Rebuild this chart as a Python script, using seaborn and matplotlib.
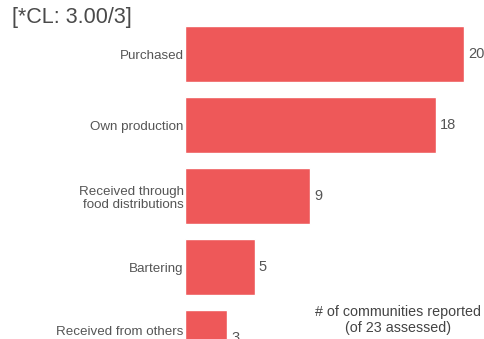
import seaborn as sns
import matplotlib.pyplot as plt
import matplotlib.transforms as mtransforms
import pandas as pd

categories = ["Purchased", "Own production", "Received through\nfood distributions",
              "Bartering", "Received from others"]
counts = [20, 18, 9, 5, 3]

df = pd.DataFrame({"source": categories, "count": counts})

sns.set_style("white")
plt.rcParams['font.family'] = ['Liberation Sans', 'DejaVu Sans']

fig = plt.figure(figsize=(4.84, 3.39), dpi=100)
# axes runs off the bottom of the figure, like the cropped original
ax = fig.add_axes([185 / 484, -0.1018, 299 / 484, 1.047])

sns.barplot(data=df, y="source", x="count", color="#EE5859", width=0.79,
            saturation=1, ax=ax, orient="h")
ax.set_xlim(0, 21.45)
ax.set_ylim(4.5, -0.5)
ax.set_xlabel("")
ax.set_ylabel("")
ax.set_xticks([])
ax.tick_params(axis="y", length=0, pad=1, labelsize=9.6, labelcolor="#555555")
sns.despine(ax=ax, left=True, bottom=True)

# last label sits a bit above its bar centre in the original
last = ax.get_yticklabels()[-1]
last.set_transform(last.get_transform() +
                   mtransforms.ScaledTranslation(0, 8 / 100, fig.dpi_scale_trans))

for i, v in enumerate(counts):
    ax.text(v + 0.3, i, str(v), va="center", ha="left", fontsize=10.5, color="#555555")

fig.text(12 / 484, 1 - 17 / 339, "[*CL: 3.00/3]", fontsize=15.5, color="#4a4a4a",
         va="center", ha="left")
fig.text(398 / 484, 1 - 320 / 339, "# of communities reported\n(of 23 assessed)",
         fontsize=10.3, color="#444444", ha="center", va="center", linespacing=1.25)

fig.savefig("out.png", dpi=100)
